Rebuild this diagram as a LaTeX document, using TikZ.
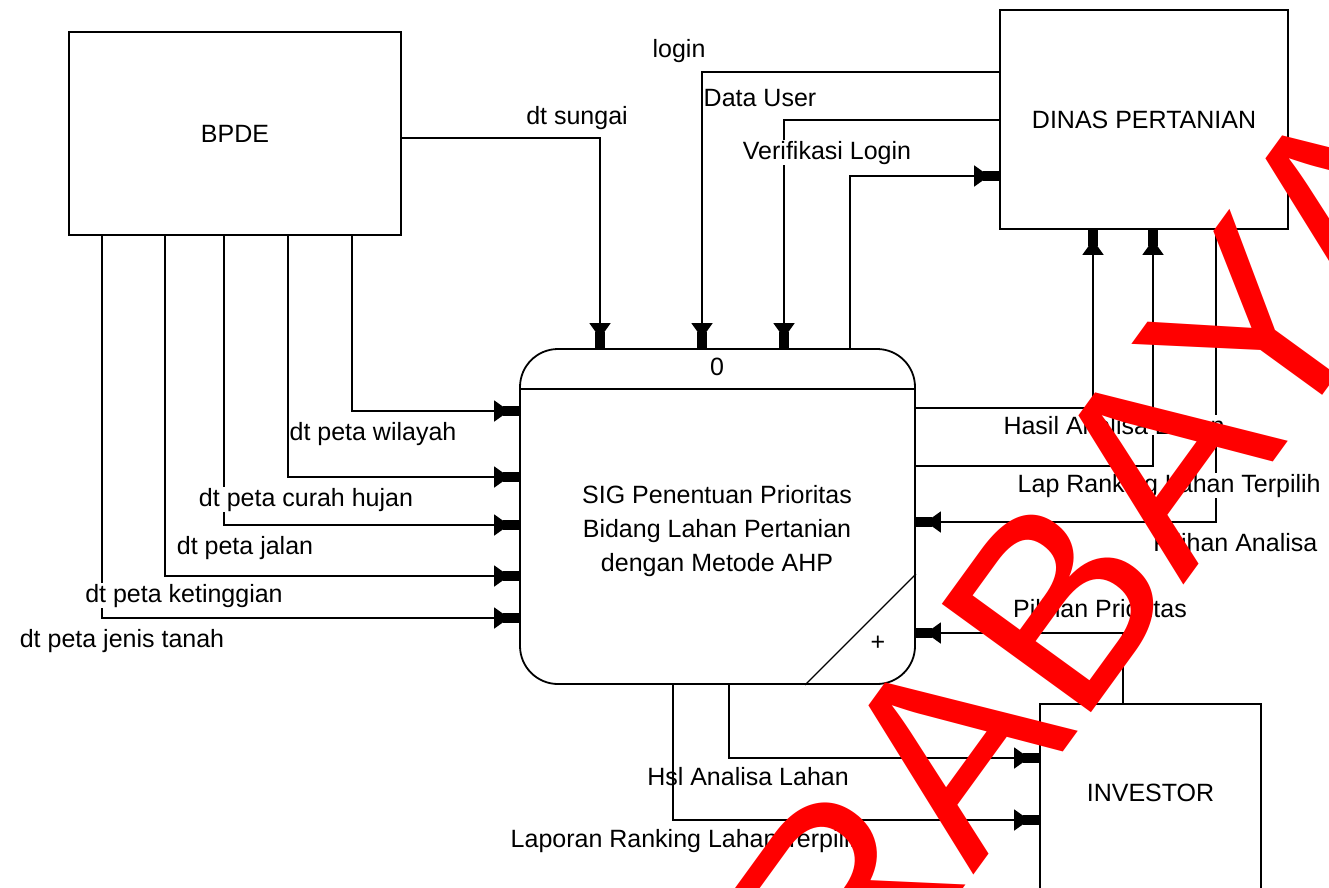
\documentclass[tikz,border=0pt]{standalone}
\usepackage{fontspec}
\setmainfont{Liberation Sans}
\usepackage{xcolor}
\usepackage{tikz}
\usetikzlibrary{arrows.meta}
\definecolor{wmred}{HTML}{FF0000}

\begin{document}
\begin{tikzpicture}[
  x=1pt, y=-1pt,
  font=\fontsize{25}{34}\selectfont,
  entity/.style={draw, line width=1.8pt, inner sep=0pt},
  flow/.style={line width=1.8pt,
               -{Triangle[length=15pt,width=21pt,sep=-6pt,fill=black] Rectangle[length=16pt,width=10pt,fill=black]}},
  lbl/.style={fill=white, inner sep=0.5pt, anchor=base}
]
\clip (0,0) rectangle (1329,887);

% entitas luar dan proses
\node[entity, minimum width=332pt, minimum height=203pt] (bpde) at (235,133.5) {BPDE};
\node[entity, minimum width=288pt, minimum height=219pt] (dinas) at (1144,119.5) {DINAS PERTANIAN};
\node[entity, minimum width=221pt, text height=98pt, text depth=120pt, anchor=north] (investor)
   at (1150.5,703) {INVESTOR};
\node[entity, rounded corners=38pt, minimum width=395pt, minimum height=335pt] (proc) at (717.5,516.5) {};
\draw[line width=1.8pt] (proc.west |- 0,389) -- (proc.east |- 0,389);
\node (procid) at (717,367) {0};
\node[align=center] (proctext) at (717,531)
   {SIG Penentuan Prioritas\\Bidang Lahan Pertanian\\dengan Metode AHP};
\draw[line width=1.3pt] (805,0 |- proc.south) -- (proc.east |- 0,574);
\node (procplus) at (878,643) {+};

% aliran dari BPDE
\draw[flow] (bpde.east |- 0,138) -| (600,0 |- proc.north);
\draw[flow] (352,0 |- bpde.south) |- (proc.west |- 0,411);
\draw[flow] (288,0 |- bpde.south) |- (proc.west |- 0,477);
\draw[flow] (224,0 |- bpde.south) |- (proc.west |- 0,525);
\draw[flow] (165,0 |- bpde.south) |- (proc.west |- 0,576);
\draw[flow] (102,0 |- bpde.south) |- (proc.west |- 0,618);

% aliran dinas pertanian
\draw[flow] (dinas.west |- 0,72) -| (702,0 |- proc.north);
\draw[flow] (dinas.west |- 0,120) -| (784,0 |- proc.north);
\draw[flow] (850,0 |- proc.north) |- (dinas.west |- 0,176);
\draw[flow] (proc.east |- 0,408) -| (1093,0 |- dinas.south);
\draw[flow] (proc.east |- 0,466) -| (1153,0 |- dinas.south);
\draw[flow] (1216,0 |- dinas.south) |- (proc.east |- 0,522);

% aliran investor
\draw[flow] (1123,0 |- investor.north) |- (proc.east |- 0,633);
\draw[flow] (729,0 |- proc.south) |- (investor.west |- 0,758);
\draw[flow] (673,0 |- proc.south) |- (investor.west |- 0,820);

% label aliran
\node[lbl] (lsungai) at (577,124) {dt sungai};
\node[lbl] (llogin) at (679,57) {login};
\node[lbl] (luser) at (760,106) {Data User};
\node[lbl] (lverif) at (827,159) {Verifikasi Login};
\node[lbl] (lwil) at (373,440) {dt peta wilayah};
\node[lbl] (lhujan) at (306,506) {dt peta curah hujan};
\node[lbl] (ljalan) at (245,554) {dt peta jalan};
\node[lbl] (ltinggi) at (184,602) {dt peta ketinggian};
\node[lbl] (ltanah) at (122,647) {dt peta jenis tanah};
\node[lbl] (lhasil) at (1114,434) {Hasil Analisa Lahan};
\node[lbl, anchor=base west] (llap) at (1017,492) {Lap Ranking Lahan Terpilih};
\node[lbl, anchor=base east] (lpilan) at (1318,551) {Pilihan Analisa};
\node[lbl] (lpilpri) at (1100,617) {Pilihan Prioritas};
\node[lbl, fill=none] (lhsl) at (748,785) {Hsl Analisa Lahan};
\node[lbl, anchor=base west] (llapor) at (510,847) {Laporan Ranking Lahan Terpilih};

% watermark
\node[text=wmred, font=\fontsize{268}{268}\selectfont, rotate=54, anchor=base west, inner sep=0pt]
   (wmark) at (641,1333) {SURABAYA};
\end{tikzpicture}
\end{document}
